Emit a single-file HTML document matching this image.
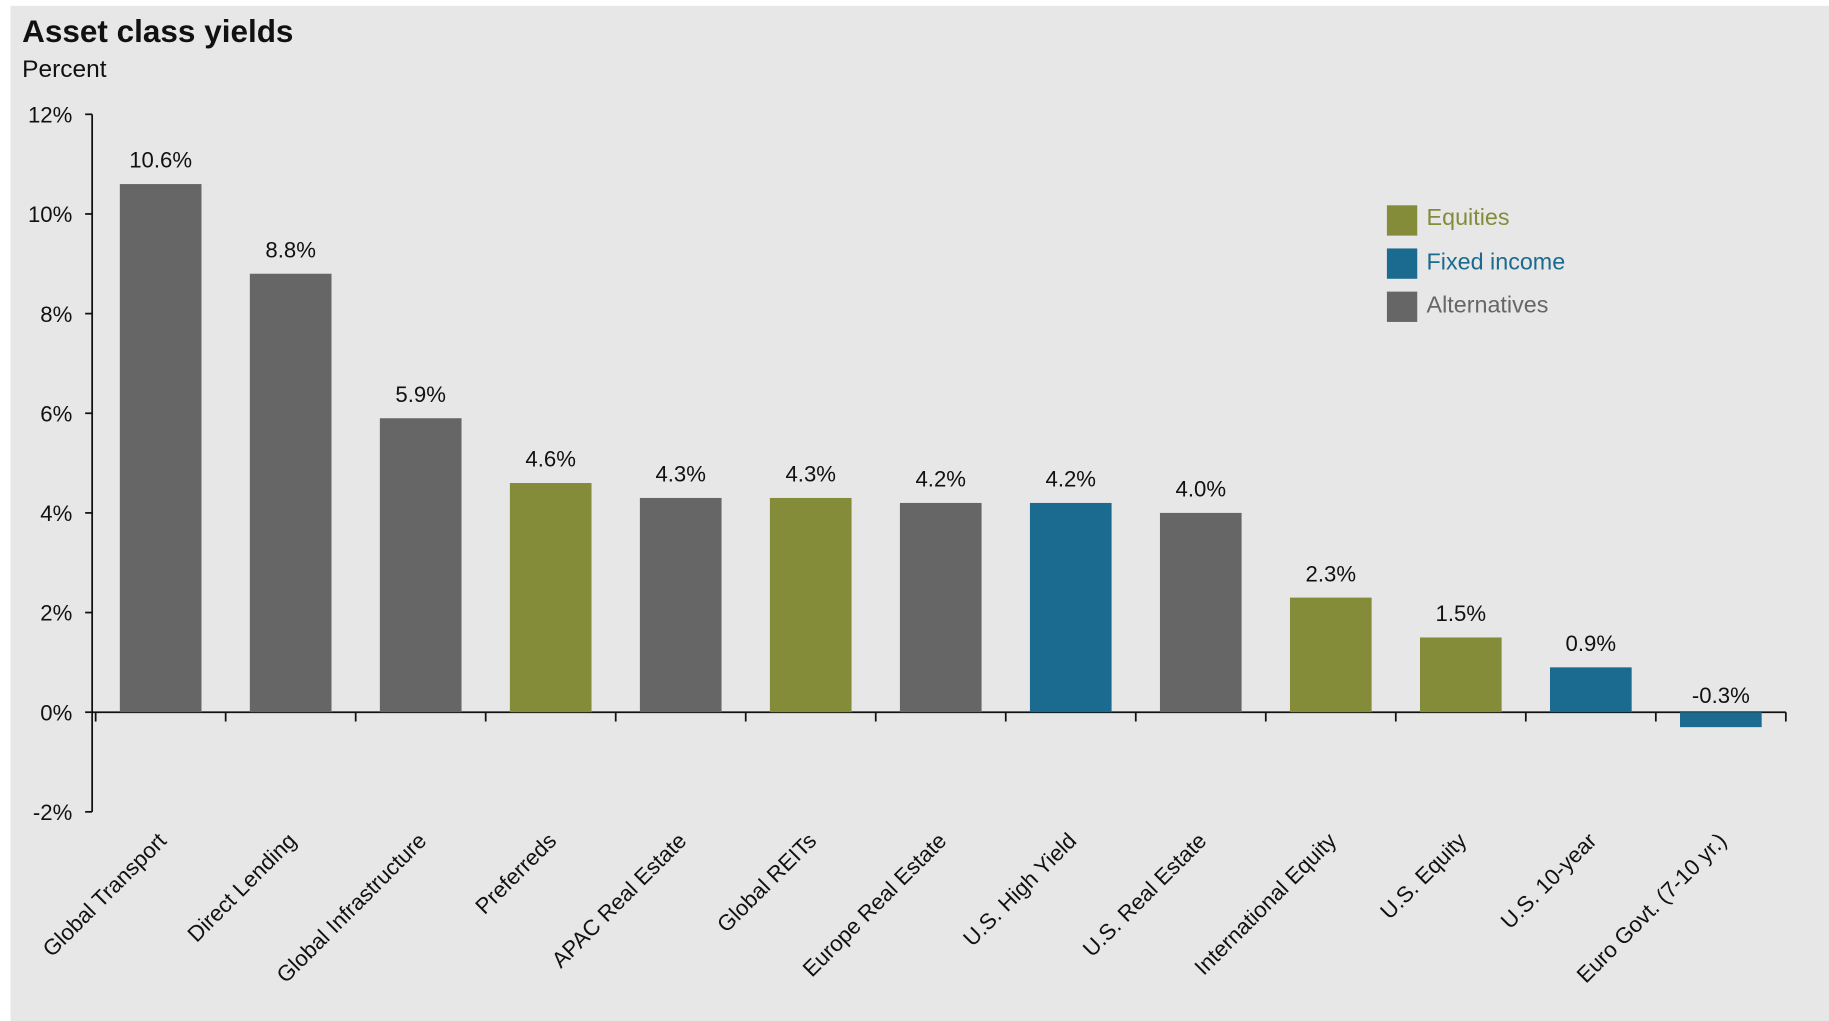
<!DOCTYPE html>
<html><head><meta charset="utf-8"><style>
html,body{margin:0;padding:0;background:#fff;width:1829px;height:1021px;overflow:hidden}
svg{display:block;font-family:"Liberation Sans",Arial,sans-serif}
</style></head><body>
<svg id="chart" width="1829" height="1021" viewBox="0 0 1568 875.3" preserveAspectRatio="none">
<rect x="9" y="5" width="1559" height="871" fill="#e7e7e7"/>
<text x="19" y="36" font-size="27" font-weight="bold" fill="#111">Asset class yields</text>
<text x="19" y="66" font-size="21" fill="#111">Percent</text>
<g id="axes"></g>
<g id="bars"></g>
<g id="legend">
<rect x="1189" y="176" width="26" height="26" fill="#848c3a"/>
<text x="1223" y="193" font-size="20" fill="#848c3a">Equities</text>
<rect x="1189" y="213" width="26" height="26" fill="#1b6a8f"/>
<text x="1223" y="231" font-size="20" fill="#1b6a8f">Fixed income</text>
<rect x="1189" y="250" width="26" height="26" fill="#666666"/>
<text x="1223" y="268" font-size="20" fill="#666666">Alternatives</text>
</g>
</svg>
<script>
const categories=["Global Transport","Direct Lending","Global Infrastructure","Preferreds","APAC Real Estate","Global REITs","Europe Real Estate","U.S. High Yield","U.S. Real Estate","International Equity","U.S. Equity","U.S. 10-year","Euro Govt. (7-10 yr.)"];
const values=[10.6,8.8,5.9,4.6,4.3,4.3,4.2,4.2,4.0,2.3,1.5,0.9,-0.3];
const valueLabels=["10.6%","8.8%","5.9%","4.6%","4.3%","4.3%","4.2%","4.2%","4.0%","2.3%","1.5%","0.9%","-0.3%"];
const assetTypes=["alt","alt","alt","eq","alt","eq","alt","fi","alt","eq","eq","fi","fi"];
const yTicks=[12,10,8,6,4,2,0,-2];
const yTickLabels=["12%","10%","8%","6%","4%","2%","0%","-2%"];
const NS="http://www.w3.org/2000/svg";
const colors={eq:"#848c3a",fi:"#1b6a8f",alt:"#666666"};
const x0=82,x1=1531,yTop=98,yBot=696,vMax=12,vMin=-2;
const bw=(x1-x0)/categories.length;
const y=v=>yTop+(vMax-v)*(yBot-yTop)/(vMax-vMin);
const xc=i=>x0+bw*(i+0.5);
function mk(tag,attrs,parent){const e=document.createElementNS(NS,tag);for(const k in attrs)e.setAttribute(k,attrs[k]);parent.appendChild(e);return e;}
const axes=document.getElementById('axes'),bars=document.getElementById('bars');
let yl=mk('line',{x1:79,x2:79,y1:y(12),y2:y(-2),stroke:'#111','stroke-width':1.5},axes);


yTicks.forEach((t,i)=>{
 const tk=mk('line',{x1:73,x2:79,y1:y(t),y2:y(t),stroke:'#111','stroke-width':1.5},axes);
 
 
 const tl=mk('text',{x:62,y:y(t)+7,'font-size':19,'text-anchor':'end',fill:'#111'},axes);
 tl.textContent=yTickLabels[i];
 
 
});
let xl=mk('line',{x1:79,x2:x1,y1:y(0),y2:y(0),stroke:'#111','stroke-width':1.5},axes);


for(let i=0;i<=categories.length;i++){
 const tk=mk('line',{x1:x0+bw*i,x2:x0+bw*i,y1:y(0),y2:y(0)+8,stroke:'#111','stroke-width':1.5},axes);
 
 
}
categories.forEach((c,i)=>{
 const v=values[i],top=Math.min(y(v),y(0)),h=Math.abs(y(v)-y(0));
 const r=mk('rect',{x:xc(i)-35,y:top,width:70,height:h,fill:colors[assetTypes[i]]},bars);
 
 
 const ly=v>=0?y(v)-14:y(0)-8;
 const vl=mk('text',{x:xc(i),y:ly,'font-size':19,'text-anchor':'middle',fill:'#111'},bars);
 vl.textContent=valueLabels[i];
 
 
 const cl=mk('text',{x:xc(i)+6,y:722,'font-size':19,'text-anchor':'end',fill:'#111',transform:`rotate(-45 ${xc(i)+6} 722)`},axes);
 cl.textContent=c;
 
 
});
</script>
</body></html>
